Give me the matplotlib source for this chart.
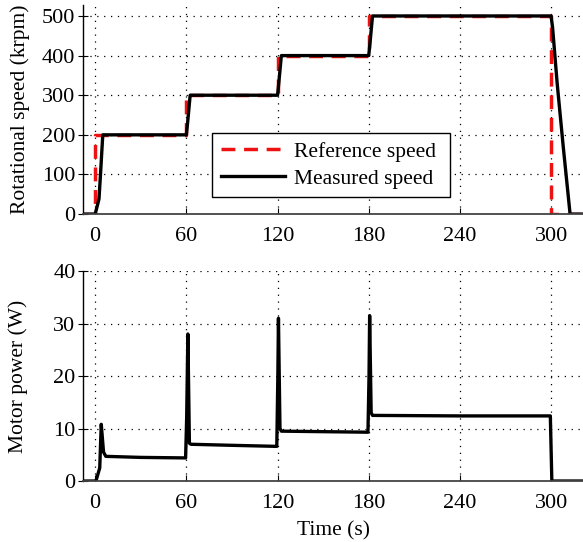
import matplotlib
matplotlib.use("Agg")
import matplotlib.pyplot as plt

plt.rcParams['font.family'] = ['Liberation Serif', 'DejaVu Serif']
plt.rcParams['font.size'] = 16

# Reference speed (krpm)
ref_t = [-8, 0, 0, 60, 60, 120, 120, 180, 180, 300, 300, 321]
ref_v = [0, 0, 200, 200, 300, 300, 400, 400, 500, 500, 0, 0]

# Measured speed (krpm)
meas_t = [-8, 0, 1.0, 2.5, 3.5, 5.0, 60, 60.8, 62.5, 120, 120.8, 122.5,
          180, 180.8, 182.5, 300, 301, 304, 308, 312.5, 321]
meas_v = [0, 0, 15, 38, 100, 200, 200, 230, 300, 300, 330, 400,
          400, 430, 500, 500, 470, 330, 170, 0, 0]

# Motor power (W)
pow_t = [-8, 0.5, 3.0, 4.0, 5.5, 7.0, 30, 59.5, 60.2, 61.0, 62.0, 63.0, 90, 119.5,
         120.2, 120.6, 121.6, 122.5, 150, 179.5, 180.2, 180.6, 181.6, 182.5, 240,
         299.5, 300.5, 321]
pow_v = [0, 0, 2.5, 10.8, 5.5, 4.7, 4.5, 4.4, 12, 28, 7.2, 7.0, 6.8, 6.6,
         20, 31, 10, 9.5, 9.4, 9.3, 20, 31.5, 13, 12.5, 12.4,
         12.4, 0, 0]

x_ticks = [0, 60, 120, 180, 240, 300]
speed_ticks = [0, 100, 200, 300, 400, 500]
power_ticks = [0, 10, 20, 30, 40]

fig = plt.figure(figsize=(5.83, 5.42), dpi=100)
ax1 = fig.add_axes([0.1424, 0.605, 0.8576, 0.386])
ax2 = fig.add_axes([0.1424, 0.1125, 0.8576, 0.3875])

grid_kw = dict(color='black', linestyle=(0, (1, 4.5)), linewidth=0.9)

for ax in (ax1, ax2):
    ax.set_xlim(-8, 321)
    ax.set_xticks(x_ticks)
    ax.spines['top'].set_visible(False)
    ax.spines['right'].set_visible(False)
    ax.spines['left'].set_linewidth(1.0)
    ax.spines['bottom'].set_color('#444444')
    ax.spines['bottom'].set_linewidth(1.3)
    ax.grid(True, **grid_kw)
    ax.set_axisbelow(True)
    ax.tick_params(axis='x', direction='in', length=4, pad=9, labelsize=16)
    ax.tick_params(axis='y', direction='inout', length=7, pad=2, labelsize=16)

ax1.plot(ref_t, ref_v, color='#ee1111', linestyle=(0, (4, 2.5)), linewidth=2.5,
         label='Reference speed')
ax1.plot(meas_t, meas_v, color='black', linewidth=2.4, label='Measured speed')
ax1.set_ylim(0, 528)
ax1.set_yticks(speed_ticks)
ax1.set_ylabel('Rotational speed (krpm)', labelpad=9, fontsize=15.5)
leg = ax1.legend(loc='lower left', bbox_to_anchor=(0.258, 0.081, 0.476, 0.33),
                 mode='expand', fancybox=False, framealpha=1, edgecolor='black',
                 handlelength=3.0, handletextpad=0.4, borderaxespad=0,
                 labelspacing=0.3, fontsize=15.5)
leg.get_frame().set_linewidth(1.0)

ax2.plot(pow_t, pow_v, color='black', linewidth=2.4)
ax2.set_ylim(0, 40)
ax2.set_yticks(power_ticks)
ax2.set_ylabel('Motor power (W)', labelpad=18, fontsize=15.5)
ax2.set_xlabel('Time (s)', labelpad=6, fontsize=15.5)

fig.savefig('out.png', dpi=100)
